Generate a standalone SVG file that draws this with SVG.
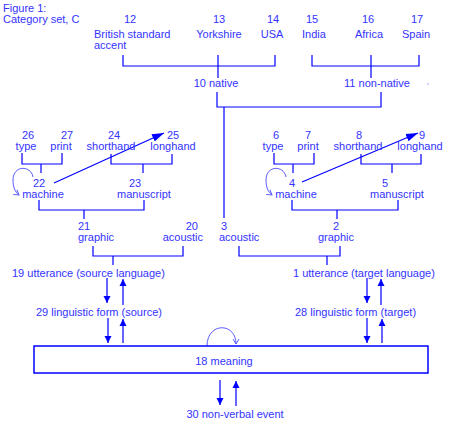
<svg xmlns="http://www.w3.org/2000/svg" width="450" height="428" viewBox="0 0 450 428">
<defs>
<style>
text{font-family:"Liberation Sans",Arial,sans-serif;font-size:11px;fill:#3333ff}
.m{text-anchor:middle}
.e{text-anchor:end}
.c{fill:none;stroke:#0000ff;stroke-width:1.2}
.loop{fill:none;stroke:#5a5aff;stroke-width:1}
</style>
<marker id="ah" markerUnits="userSpaceOnUse" markerWidth="8" markerHeight="8" refX="7" refY="4" orient="auto">
<path d="M0,0.5 L7,4 L0,7.5 z" fill="#0000ff"/>
</marker>
<marker id="ahd" markerUnits="userSpaceOnUse" markerWidth="13" markerHeight="10" refX="12" refY="5" orient="auto">
<path d="M0,1 L12,5 L0,9 z" fill="#0000ff"/>
</marker>
<marker id="ahs" markerUnits="userSpaceOnUse" markerWidth="7" markerHeight="7" refX="5" refY="3.5" orient="auto">
<path d="M0,0.5 L5,3.5 L0,6.5" fill="none" stroke="#5a5aff" stroke-width="1"/>
</marker>
</defs>
<rect width="450" height="428" fill="#ffffff"/>
<g id="title">
<text x="3" y="12">Figure 1:</text>
<text x="3" y="23">Category set, C</text>
</g>
<g id="connectors">
<path class="c" d="M123,55 V66 H275 V55 M218,55 V78"/>
<path class="c" d="M312,55 V66 H419 V55 M371,55 V78"/>
<path class="c" d="M217,92 V107 H381 V92 M224,107 V218"/>
<path class="c" d="M22,153 V164 H62 V153 M41,164 V173"/>
<path class="c" d="M111,154 V164 H172 V154 M143,164 V173"/>
<path class="c" d="M274,153 V164 H314 V153 M293,164 V173"/>
<path class="c" d="M361,154 V164 H421 V154 M392,164 V173"/>
<path class="c" d="M39,200 V210 H144 V200 M84,210 V219"/>
<path class="c" d="M292,200 V210 H398 V200 M337,210 V219"/>
<path class="c" d="M93,246 V256 H183 V246 M113,256 V265"/>
<path class="c" d="M239,246 V256 H340 V246 M327,256 V265"/>
<path class="c" d="M54,183 L164,133" marker-end="url(#ahd)"/>
<path class="c" d="M302,182 L418,133" marker-end="url(#ahd)"/>
<path class="c" d="M107,278 V303" marker-end="url(#ah)"/>
<path class="c" d="M123,305 V279" marker-end="url(#ah)"/>
<path class="c" d="M108,318 V343" marker-end="url(#ah)"/>
<path class="c" d="M123,343 V319" marker-end="url(#ah)"/>
<path class="c" d="M367,278 V303" marker-end="url(#ah)"/>
<path class="c" d="M381,305 V279" marker-end="url(#ah)"/>
<path class="c" d="M367,318 V343" marker-end="url(#ah)"/>
<path class="c" d="M382,343 V319" marker-end="url(#ah)"/>
<path class="c" d="M220,380 V405" marker-end="url(#ah)"/>
<path class="c" d="M236,406 V381" marker-end="url(#ah)"/>
<path class="loop" d="M33,177 C31,165 13,165 13,180 C13,187 15,192 19,195" marker-end="url(#ahs)"/>
<path class="loop" d="M286,177 C284,165 266,165 266,180 C266,187 268,192 272,195" marker-end="url(#ahs)"/>
<path class="loop" d="M207,346 C207,322 236,322 236,344" marker-end="url(#ahs)"/>
</g>
<g id="n12"><text class="m" x="130" y="23">12</text><text x="94" y="38">British standard</text><text x="94" y="49">accent</text></g>
<g id="n13"><text class="m" x="219" y="23">13</text><text class="m" x="219" y="38">Yorkshire</text></g>
<g id="n14"><text class="m" x="273" y="23">14</text><text class="m" x="272" y="38">USA</text></g>
<g id="n15"><text class="m" x="312" y="23">15</text><text class="m" x="314" y="38">India</text></g>
<g id="n16"><text class="m" x="368" y="23">16</text><text class="m" x="369" y="38">Africa</text></g>
<g id="n17"><text class="m" x="417" y="23">17</text><text class="m" x="416" y="38">Spain</text></g>
<g id="n10"><text class="m" x="216" y="87">10 native</text></g>
<g id="n11"><text class="m" x="377" y="87">11 non-native</text><circle cx="428" cy="84" r="0.6" fill="#3333ff"/></g>
<g id="n26"><text class="m" x="28" y="139">26</text><text class="m" x="26" y="149.5">type</text></g>
<g id="n27"><text class="m" x="67" y="139">27</text><text class="m" x="61" y="149.5">print</text></g>
<g id="n24"><text class="m" x="114" y="139">24</text><text class="m" x="111" y="149.5">shorthand</text></g>
<g id="n25"><text class="m" x="173" y="139">25</text><text class="m" x="173" y="149.5">longhand</text></g>
<g id="n22"><text class="m" x="39" y="187">22</text><text class="m" x="43" y="198">machine</text></g>
<g id="n23"><text class="m" x="135" y="187">23</text><text class="m" x="144" y="198">manuscript</text></g>
<g id="n6"><text class="m" x="276" y="139">6</text><text class="m" x="273" y="149.5">type</text></g>
<g id="n7"><text class="m" x="308" y="139">7</text><text class="m" x="308" y="149.5">print</text></g>
<g id="n8"><text class="m" x="359" y="139">8</text><text class="m" x="358" y="149.5">shorthand</text></g>
<g id="n9"><text class="m" x="422" y="139">9</text><text class="m" x="420" y="149.5">longhand</text></g>
<g id="n4"><text class="m" x="292" y="187">4</text><text class="m" x="296" y="198">machine</text></g>
<g id="n5"><text class="m" x="385" y="187">5</text><text class="m" x="397" y="198">manuscript</text></g>
<g id="n21"><text x="78" y="230">21</text><text x="78" y="241">graphic</text></g>
<g id="n20"><text class="e" x="198" y="230">20</text><text class="e" x="203" y="241">acoustic</text></g>
<g id="n3"><text x="221" y="230">3</text><text x="219" y="241">acoustic</text></g>
<g id="n2"><text class="m" x="336" y="230">2</text><text class="m" x="336" y="241">graphic</text></g>
<g id="n19"><text x="12" y="276.5">19 utterance (source language)</text></g>
<g id="n1"><text x="293" y="276.5">1 utterance (target language)</text></g>
<g id="n29"><text x="36" y="316">29 linguistic form (source)</text></g>
<g id="n28"><text x="295" y="316">28 linguistic form (target)</text></g>
<g id="n18"><rect x="34" y="346" width="394" height="27" fill="none" stroke="#0000ff" stroke-width="1.5"/><text class="m" x="224" y="365">18 meaning</text></g>
<g id="n30"><text class="m" x="235" y="418">30 non-verbal event</text></g>
</svg>
